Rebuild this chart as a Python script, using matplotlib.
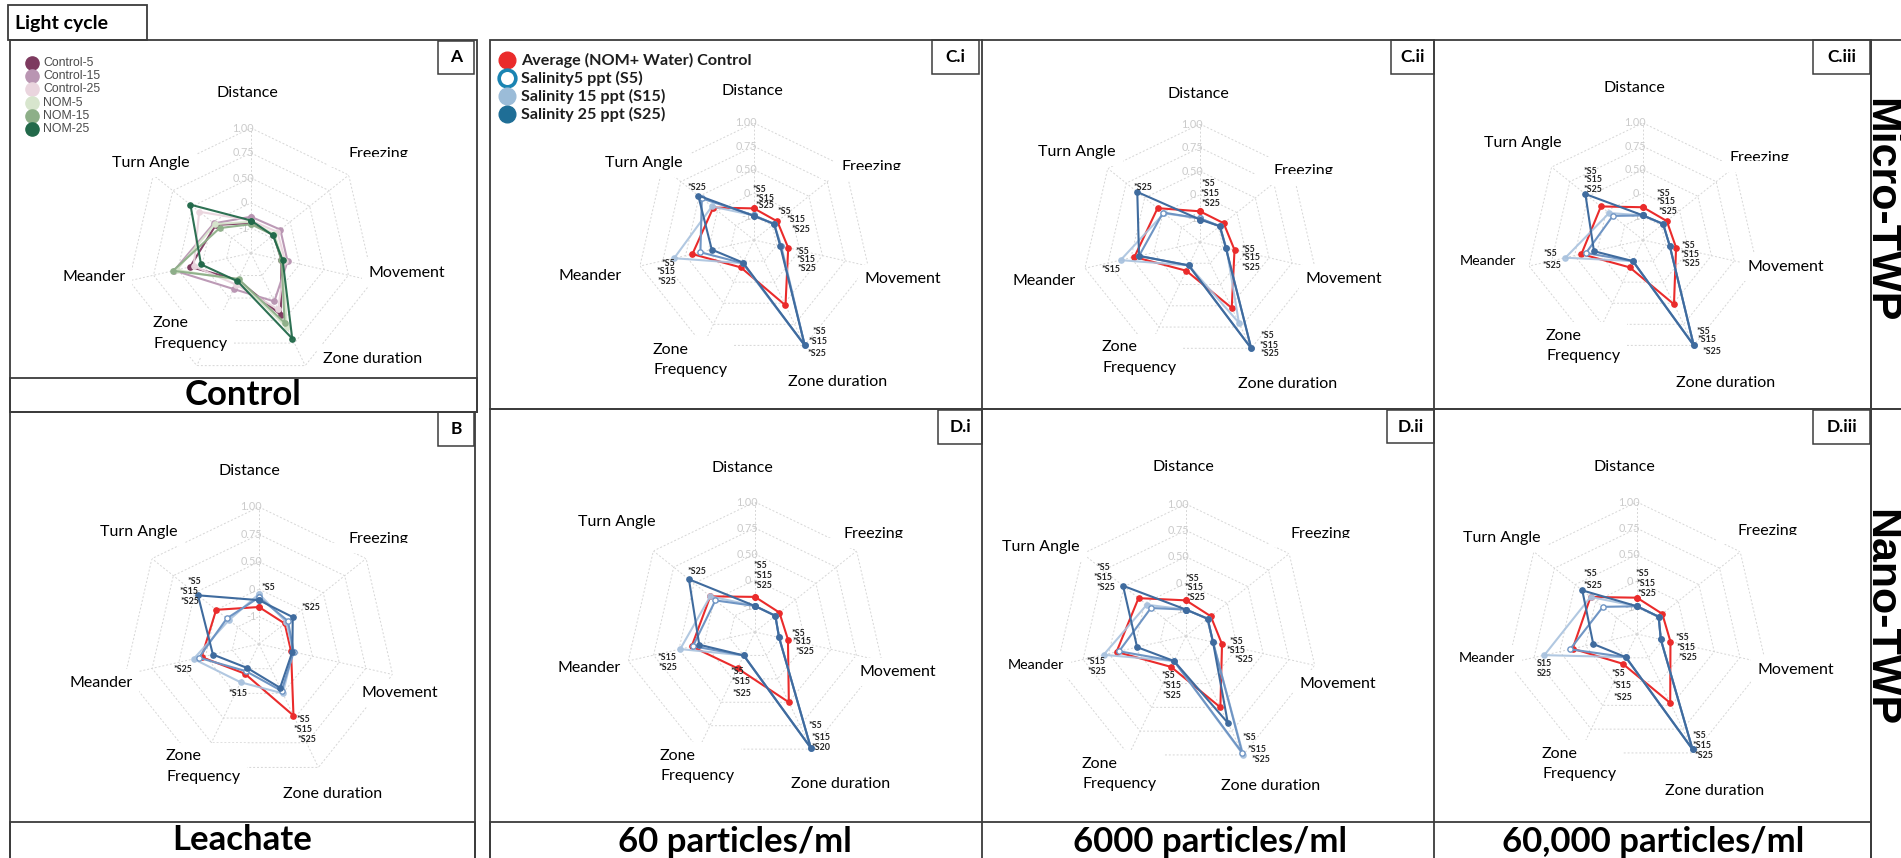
import numpy as np
import matplotlib.pyplot as plt
from matplotlib.patches import Rectangle
from matplotlib.lines import Line2D

plt.rcParams['font.family'] = ['Lato', 'DejaVu Sans']

W, H = 1901, 858

# --- categories / radial scale ---
axis_names = ["Distance", "Freezing", "Movement", "Zone duration",
              "Zone\nFrequency", "Meander", "Turn Angle"]
ring_levels = [0.2, 0.4, 0.6, 0.8, 1.0]
ring_labels = ["-1", "0", "0.50", "0.75", "1.00"]

# --- panel A: control / NOM groups (scaled radius, order as axis_names) ---
control_5 = [0.24, 0.23, 0.25, 0.55, 0.24, 0.50, 0.36]
control_15 = [0.29, 0.30, 0.30, 0.43, 0.32, 0.63, 0.38]
control_25 = [0.26, 0.27, 0.28, 0.50, 0.28, 0.47, 0.53]
nom_5 = [0.25, 0.24, 0.26, 0.66, 0.24, 0.61, 0.37]
nom_15 = [0.23, 0.23, 0.25, 0.62, 0.23, 0.64, 0.32]
nom_25 = [0.26, 0.225, 0.26, 0.76, 0.25, 0.41, 0.62]

# --- panel B: leachate ---
b_ctrl = [0.27, 0.24, 0.24, 0.58, 0.24, 0.43, 0.40]
b_s5 = [0.34, 0.27, 0.26, 0.38, 0.22, 0.45, 0.30]
b_s15 = [0.365, 0.255, 0.255, 0.40, 0.31, 0.49, 0.28]
b_s25 = [0.32, 0.315, 0.25, 0.355, 0.195, 0.345, 0.57]

# --- Micro-TWP ---
ci_ctrl = [0.27, 0.255, 0.30, 0.62, 0.26, 0.54, 0.445]
ci_s5 = [0.21, 0.22, 0.235, 1.0, 0.22, 0.47, 0.57]
ci_s15 = [0.21, 0.22, 0.24, 1.0, 0.22, 0.70, 0.46]
ci_s25 = [0.205, 0.22, 0.23, 1.0, 0.215, 0.37, 0.61]

cii_ctrl = [0.26, 0.256, 0.30, 0.62, 0.27, 0.57, 0.46]
cii_s5 = [0.20, 0.215, 0.225, 1.0, 0.22, 0.53, 0.40]
cii_s15 = [0.20, 0.215, 0.23, 0.76, 0.22, 0.69, 0.39]
cii_s25 = [0.19, 0.215, 0.225, 1.0, 0.22, 0.53, 0.68]

ciii_ctrl = [0.28, 0.26, 0.29, 0.61, 0.26, 0.54, 0.46]
ciii_s5 = [0.21, 0.22, 0.235, 1.0, 0.20, 0.50, 0.33]
ciii_s15 = [0.21, 0.22, 0.235, 1.0, 0.20, 0.68, 0.37]
ciii_s25 = [0.21, 0.22, 0.235, 1.0, 0.20, 0.43, 0.63]

# --- Nano-TWP ---
di_ctrl = [0.27, 0.24, 0.26, 0.60, 0.31, 0.50, 0.44]
di_s5 = [0.20, 0.20, 0.19, 0.99, 0.20, 0.49, 0.39]
di_s15 = [0.20, 0.20, 0.19, 0.99, 0.20, 0.59, 0.44]
di_s25 = [0.20, 0.20, 0.19, 0.99, 0.20, 0.44, 0.65]

dii_ctrl = [0.27, 0.24, 0.28, 0.60, 0.26, 0.54, 0.46]
dii_s5 = [0.20, 0.21, 0.21, 0.98, 0.21, 0.52, 0.34]
dii_s15 = [0.20, 0.21, 0.21, 1.0, 0.21, 0.64, 0.38]
dii_s25 = [0.20, 0.21, 0.21, 0.73, 0.21, 0.38, 0.61]

diii_ctrl = [0.275, 0.245, 0.26, 0.58, 0.25, 0.50, 0.45]
diii_s5 = [0.21, 0.21, 0.185, 0.97, 0.195, 0.52, 0.33]
diii_s15 = [0.21, 0.21, 0.185, 0.97, 0.195, 0.72, 0.45]
diii_s25 = [0.21, 0.21, 0.185, 0.97, 0.195, 0.34, 0.53]

group_names = ["Control-5", "Control-15", "Control-25", "NOM-5", "NOM-15", "NOM-25"]
group_colors = ["#7d3a5f", "#b995b2", "#ead5de", "#d7e5cd", "#8daf88", "#22694a"]
sal_names = ["Average (NOM+ Water) Control", "Salinity5 ppt (S5)",
             "Salinity 15 ppt (S15)", "Salinity 25 ppt (S25)"]
RED, S5C, S15C, S25C = "#ea2b2b", "#6f95c4", "#a9c2de", "#3f6b9e"

fig = plt.figure(figsize=(W / 100, H / 100), dpi=100)


def fx(x):
    return x / W


def fy(y):
    return 1 - y / H


def box(x0, y0, x1, y1, lw=1.3, ec="#3c3c3c", fc="none", z=5):
    fig.add_artist(Rectangle((fx(x0), fy(y1)), (x1 - x0) / W, (y1 - y0) / H,
                             transform=fig.transFigure, lw=lw, ec=ec, fc=fc, zorder=z))


theta = np.linspace(0, 2 * np.pi, 8)[:-1]
theta_c = np.append(theta, theta[0])


def radar(cx, cy, R):
    ax = fig.add_axes([fx(cx - R), fy(cy + R), 2 * R / W, 2 * R / H], projection="polar")
    ax.set_theta_zero_location("N")
    ax.set_theta_direction(-1)
    ax.set_ylim(0, 1)
    ax.set_xticks([])
    ax.set_yticks([])
    ax.grid(False)
    ax.spines["polar"].set_visible(False)
    ax.patch.set_alpha(0)
    for lv in ring_levels:
        ax.plot(theta_c, [lv] * 8, ls=(0, (2, 2)), color="#d6d6d6", lw=0.7, zorder=1)
    for t in theta:
        ax.plot([t, t], [0, 1], ls=(0, (2, 2)), color="#d6d6d6", lw=0.7, zorder=1)
    # radial scale labels sit just left of the Distance spoke
    for lv, lab in zip(ring_levels, ring_labels):
        ax.annotate(lab, (0, lv), xytext=(-5.5, 0), textcoords="offset points",
                    ha="center", va="center", fontsize=7.8, color="#cbcbcb", zorder=1.5)
    return ax


def series(ax, vals, color, mfc=None, alpha=1.0, z=3):
    v = np.append(vals, vals[0])
    ax.plot(theta_c, v, color=color, lw=1.5, marker="o", ms=3.8,
            mfc=mfc if mfc else color, mec=color, mew=1.0,
            alpha=alpha, zorder=z, clip_on=False)


def labels(pos, meander_fs=11.5):
    # pos: Distance, Freezing(baseline), Movement, Zone duration, Zone Frequency(left), Meander, Turn Angle
    fs = 11.5
    bb = dict(fc="white", ec="none", pad=5)
    (dx, dy), (frx, fry), (mx, my), (zx, zy), (zfx, zfy), (mex, mey), (tx, ty) = pos
    fig.text(fx(dx), fy(dy), axis_names[0], ha="center", va="center", fontsize=fs, bbox=bb)
    fig.text(fx(frx), fy(fry), axis_names[1], ha="center", va="baseline", fontsize=fs, bbox=bb)
    box(frx - 50, fry - 0.5, frx + 50, fry + 9, lw=0, ec="none", fc="white", z=4)
    fig.text(fx(mx), fy(my), axis_names[2], ha="center", va="center", fontsize=fs, bbox=bb)
    fig.text(fx(zx), fy(zy), axis_names[3], ha="center", va="center", fontsize=fs, bbox=bb)
    fig.text(fx(zfx), fy(zfy), axis_names[4], ha="left", va="center", fontsize=fs,
             linespacing=1.55, bbox=bb)
    fig.text(fx(mex), fy(mey), axis_names[5], ha="center", va="center", fontsize=meander_fs, bbox=bb)
    fig.text(fx(tx), fy(ty), axis_names[6], ha="center", va="center", fontsize=fs, bbox=bb)


def notes(items):
    for x, y, s in items:
        fig.text(fx(x), fy(y), s, ha="left", va="center", fontsize=6.4,
                 fontweight="bold", color="#262626", zorder=6)


def salinity_panel(c, R, ctrl, s5, s15, s25):
    ax = radar(c[0], c[1], R)
    series(ax, ctrl, RED, z=3)
    series(ax, s15, S15C, alpha=0.9, z=4)
    series(ax, s5, S5C, mfc="white", z=5)
    series(ax, s25, S25C, z=6)
    return ax


# ---------- frames ----------
box(8, 5, 147, 40)
fig.text(fx(15), fy(23), "Light cycle", ha="left", va="center", fontsize=14, fontweight="bold")

box(10, 40, 477, 412)
box(10, 378, 477, 412)
box(10, 412, 475, 870)
box(10, 822, 475, 870)
box(490, 40, 1871, 409)
box(490, 409, 1871, 870)
box(490, 822, 1871, 870)
for xv in (982, 1434):
    fig.add_artist(Line2D([fx(xv)] * 2, [fy(40), fy(870)], color="#3c3c3c", lw=1.3,
                          transform=fig.transFigure, zorder=5))
box(1871, 40, 1920, 409)
box(1871, 409, 1920, 870)

for x0, y0, x1, y1, t in [(438, 41, 474, 74, "A"), (438, 412, 474, 446, "B"),
                          (932, 40, 979, 74, "C.i"), (1391, 40, 1434, 74, "C.ii"),
                          (1813, 40, 1870, 74, "C.iii"), (938, 410, 982, 444, "D.i"),
                          (1387, 410, 1434, 443, "D.ii"), (1813, 410, 1870, 444, "D.iii")]:
    box(x0, y0, x1, y1, lw=1.1)
    fig.text(fx((x0 + x1) / 2), fy((y0 + y1) / 2), t, ha="center", va="center",
             fontsize=12.5, fontweight="bold", zorder=6)

for x, y, t in [(243, 395, "Control"), (242, 840, "Leachate"),
                (735, 842, "60 particles/ml"), (1210, 842, "6000 particles/ml"),
                (1653, 842, "60,000 particles/ml")]:
    fig.text(fx(x), fy(y), t, ha="center", va="center", fontsize=25, fontweight="bold", zorder=6)

fig.text(fx(1880), fy(210), "Micro-TWP", rotation=-90, ha="center", va="center",
         fontsize=31, fontweight="bold", family="Liberation Sans", zorder=6)
fig.text(fx(1880), fy(618), "Nano-TWP", rotation=-90, ha="center", va="center",
         fontsize=31, fontweight="bold", family="Liberation Sans", zorder=6)

# ---------- panel A ----------
axA = radar(251, 253, 125)
for vals, col in zip([control_5, control_15, control_25, nom_5, nom_15, nom_25], group_colors):
    series(axA, vals, col, alpha=0.95)
labels([(247, 93), (378, 158), (407, 273), (373, 359), (153, 333.5), (94, 277), (151, 163)])
for i, (nm, col) in enumerate(zip(group_names, group_colors)):
    y = 63 + i * 13.2
    fig.add_artist(Line2D([fx(32)], [fy(y)], marker="o", ms=9.5, color=col, lw=0,
                          transform=fig.transFigure, zorder=6))
    fig.text(fx(43), fy(y), nm, ha="left", va="center", fontsize=8.8, color="#4a4a4a",
             family="Liberation Sans", zorder=6)

# ---------- panel B ----------
salinity_panel((259, 644), 137, b_ctrl, b_s5, b_s15, b_s25)
labels([(249, 471), (378, 543), (400, 693), (333, 794), (166, 766.5), (101, 683), (139, 532)])
notes([(188, 582, "*S5"), (180, 592, "*S15"), (181, 602, "*S25"), (262, 587, "*S5"),
       (302, 607, "*S25"), (174, 670, "*S25"), (229, 694, "*S15"),
       (297, 719, "*S5"), (294, 729, "*S15"), (298, 739, "*S25")])

# ---------- C.i ----------
salinity_panel((754, 240), 117, ci_ctrl, ci_s5, ci_s15, ci_s25)
labels([(752, 91), (871, 171), (903, 279), (838, 382), (653, 360), (590, 276), (644, 163)])
notes([(688, 188, "*S25"), (753, 189, "*S5"), (756, 198, "*S15"), (756, 206, "*S25"),
       (778, 212, "*S5"), (787, 220, "*S15"), (792, 230, "*S25"),
       (796, 251, "*S5"), (797, 259, "*S15"), (798, 268, "*S25"),
       (813, 331, "*S5"), (809, 342, "*S15"), (808, 353, "*S25"),
       (662, 264, "*S5"), (657, 272, "*S15"), (658, 282, "*S25")])
sal_y = [60, 78, 96, 114]
for i, (nm, col) in enumerate(zip(sal_names, [RED, "#1a84b2", "#9bbcd8", "#1f6e96"])):
    fig.add_artist(Line2D([fx(507)], [fy(sal_y[i])], marker="o", ms=12, lw=0,
                          mfc="white" if i == 1 else col, mec=col, mew=2.6 if i == 1 else 1,
                          transform=fig.transFigure, zorder=6))
    fig.text(fx(521), fy(sal_y[i]), nm, ha="left", va="center", fontsize=11.6,
             fontweight="bold", color="#1e1e1e", zorder=6)

# ---------- C.ii ----------
salinity_panel((1200, 242), 118, cii_ctrl, cii_s5, cii_s15, cii_s25)
labels([(1198, 94), (1303, 175), (1344, 279), (1288, 384), (1102, 357.5), (1044, 281), (1077, 152)])
notes([(1134, 188, "*S25"), (1202, 184, "*S5"), (1201, 193, "*S15"), (1202, 203, "*S25"),
       (1242, 249, "*S5"), (1242, 257, "*S15"), (1242, 267, "*S25"),
       (1102, 269, "*S15"),
       (1261, 336, "*S5"), (1260, 345, "*S15"), (1261, 353, "*S25")])

# ---------- C.iii ----------
salinity_panel((1643, 240), 117, ciii_ctrl, ciii_s5, ciii_s15, ciii_s25)
labels([(1634, 88), (1759, 162), (1786, 267), (1726, 383), (1546, 346), (1488, 261), (1523, 143)],
       meander_fs=10.3)
notes([(1584, 171, "*S5"), (1584, 180, "*S15"), (1584, 190, "*S25"),
       (1657, 193, "*S5"), (1657, 202, "*S15"), (1659, 211, "*S25"),
       (1682, 245, "*S5"), (1681, 254, "*S15"), (1682, 263, "*S25"),
       (1544, 253, "*S5"), (1543, 266, "*S25"),
       (1697, 332, "*S5"), (1698, 340, "*S15"), (1703, 351, "*S25")])

# ---------- D.i ----------
salinity_panel((755, 632), 130, di_ctrl, di_s5, di_s15, di_s25)
labels([(742, 468), (873, 538), (898, 672), (841, 784), (660, 766), (589, 668), (617, 522)])
notes([(688, 572, "*S25"), (754, 566, "*S5"), (754, 575.5, "*S15"), (754, 585, "*S25"),
       (792, 633, "*S5"), (793, 642, "*S15"), (796, 652, "*S25"),
       (658, 657, "*S15"), (659, 668, "*S25"),
       (731, 671, "*S5"), (732, 682, "*S15"), (733, 693, "*S25"),
       (809, 726, "*S5"), (812, 738, "*S15"), (812, 748, "*S20")])

# ---------- D.ii ----------
salinity_panel((1186, 636), 132, dii_ctrl, dii_s5, dii_s15, dii_s25)
labels([(1183, 467), (1320, 538), (1338, 684), (1271, 786), (1082, 774), (1036, 665), (1041, 547)],
       meander_fs=10.3)
notes([(1097, 567, "*S5"), (1094, 577, "*S15"), (1097, 587, "*S25"),
       (1186, 578.5, "*S5"), (1185, 588, "*S15"), (1187, 597.5, "*S25"),
       (1230, 642, "*S5"), (1227, 650.5, "*S15"), (1235, 659.5, "*S25"),
       (1087, 662, "*S15"), (1088, 672, "*S25"),
       (1162, 676, "*S5"), (1163, 686, "*S15"), (1163, 695.5, "*S25"),
       (1243, 738, "*S5"), (1248, 749, "*S15"), (1252, 759, "*S25")])

# ---------- D.iii ----------
salinity_panel((1637, 634), 132, diii_ctrl, diii_s5, diii_s15, diii_s25)
labels([(1624, 467), (1767, 535), (1796, 670), (1715, 791), (1542, 764), (1487, 658), (1502, 538)],
       meander_fs=10.3)
notes([(1584, 574, "*S5"), (1584, 586, "*S25"),
       (1636, 574, "*S5"), (1637, 584, "*S15"), (1638, 593.5, "*S25"),
       (1676, 638, "*S5"), (1677, 647.5, "*S15"), (1679, 658, "*S25"),
       (1537, 664, "S15"), (1537, 673.5, "S25"),
       (1612, 674, "*S5"), (1613, 685, "*S15"), (1614, 697, "*S25"),
       (1693, 735, "*S5"), (1693, 745, "*S15"), (1695, 756, "*S25")])

fig.savefig("out.png", dpi=100)
